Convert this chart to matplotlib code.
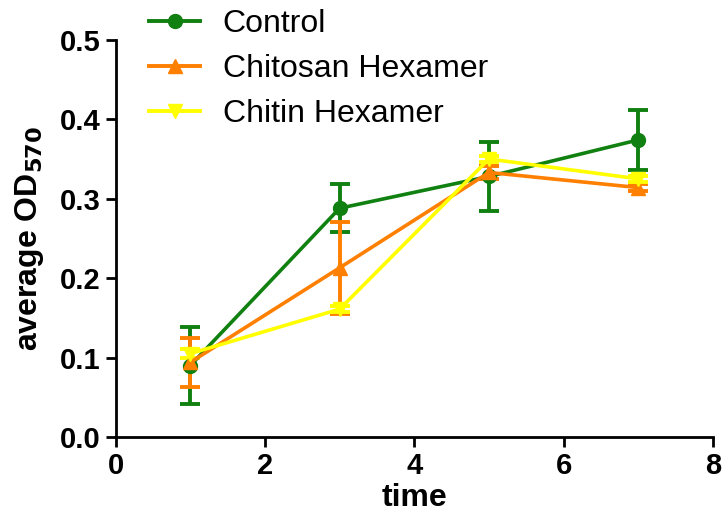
import matplotlib
matplotlib.use("Agg")
import matplotlib.pyplot as plt
from matplotlib.lines import Line2D

plt.rcParams['font.family'] = ['Liberation Sans', 'DejaVu Sans']

time = [1, 3, 5, 7]

control = [0.090, 0.288, 0.328, 0.374]
control_err = [0.049, 0.030, 0.044, 0.038]

chitosan = [0.094, 0.213, 0.333, 0.314]
chitosan_err = [0.031, 0.058, 0.008, 0.004]

chitin = [0.105, 0.161, 0.350, 0.325]
chitin_err = [0.006, 0.004, 0.004, 0.004]

series = [
    ("Control", control, control_err, "#108010", "o"),
    ("Chitosan Hexamer", chitosan, chitosan_err, "#FF7F00", "^"),
    ("Chitin Hexamer", chitin, chitin_err, "#FFFF00", "v"),
]

fig = plt.figure(figsize=(7.23, 5.31), dpi=100)
ax = fig.add_axes([0.160, 0.177, 0.826, 0.748])

handles = []
for name, vals, errs, color, marker in series:
    ax.errorbar(time, vals, yerr=errs, color=color, marker=marker,
                markersize=10, linewidth=2.6, elinewidth=2.8, capsize=7,
                capthick=2.8)
    handles.append(Line2D([], [], color=color, marker=marker, markersize=10,
                          linewidth=2.8, label=name))

ax.set_xlim(0, 8)
ax.set_ylim(0, 0.5)
ax.set_xticks([0, 2, 4, 6, 8])
ax.set_yticks([0.0, 0.1, 0.2, 0.3, 0.4, 0.5])
ax.set_yticklabels(["0.0", "0.1", "0.2", "0.3", "0.4", "0.5"])

for side in ("top", "right"):
    ax.spines[side].set_visible(False)
for side in ("left", "bottom"):
    ax.spines[side].set_linewidth(2)
ax.tick_params(axis="both", direction="out", width=2, length=7,
               labelsize=21, pad=4)
for lbl in ax.get_xticklabels() + ax.get_yticklabels():
    lbl.set_fontweight("bold")

ax.set_xlabel("time", fontsize=23, fontweight="bold", labelpad=2)
ax.set_ylabel("average OD$_{\\mathbf{570}}$", fontsize=23, fontweight="bold", labelpad=10)

ax.legend(handles=handles, loc="upper left", bbox_to_anchor=(0.035, 1.11),
          frameon=False, fontsize=23, handlelength=1.6, labelspacing=0.47,
          handletextpad=0.7, borderaxespad=0.0)

fig.savefig("out.png", dpi=100)
